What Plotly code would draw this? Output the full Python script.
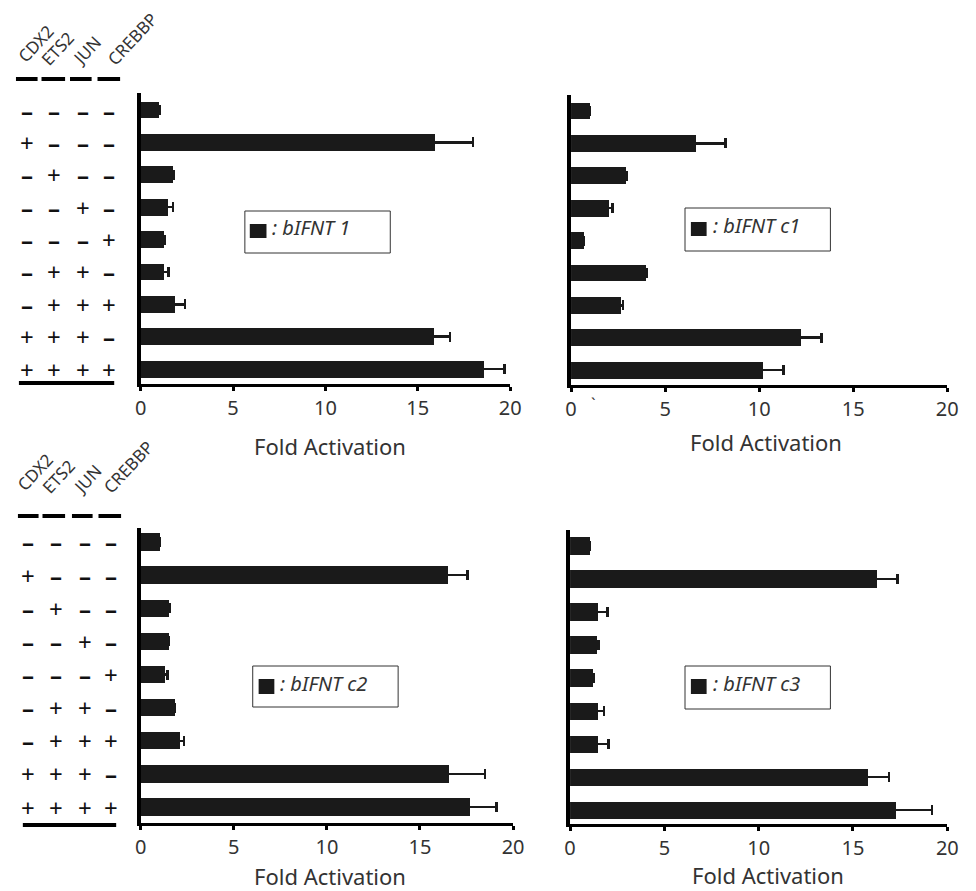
import plotly.graph_objects as go

# ---------------- data ----------------
rows = list(range(9))
factors = ["CDX2", "ETS2", "JUN", "CREBBP"]
cdx2 = ["–", "+", "–", "–", "–", "–", "–", "+", "+"]
ets2 = ["–", "–", "+", "–", "–", "+", "+", "+", "+"]
jun = ["–", "–", "–", "+", "–", "+", "+", "+", "+"]
crebbp = ["–", "–", "–", "–", "+", "–", "+", "–", "+"]

ifnt1 = [1.0, 15.9, 1.75, 1.45, 1.22, 1.22, 1.86, 15.85, 18.55]
ifnt1_err = [0.05, 2.1, 0.05, 0.3, 0.1, 0.28, 0.55, 0.9, 1.15]
c1 = [0.99, 6.63, 2.92, 2.04, 0.68, 3.97, 2.66, 12.2, 10.2]
c1_err = [0.02, 1.57, 0.03, 0.16, 0.02, 0.05, 0.11, 1.1, 1.1]
c2 = [1.0, 16.5, 1.53, 1.48, 1.27, 1.8, 2.1, 16.56, 17.67]
c2_err = [0.02, 1.06, 0.03, 0.03, 0.16, 0.03, 0.23, 1.94, 1.43]
c3 = [1.04, 16.3, 1.5, 1.45, 1.2, 1.5, 1.5, 15.8, 17.3]
c3_err = [0.02, 1.05, 0.48, 0.05, 0.03, 0.3, 0.53, 1.1, 1.9]

series_names = ["bIFNT 1", "bIFNT c1", "bIFNT c2", "bIFNT c3"]
x_ticks = [0, 5, 10, 15, 20]
x_title = "Fold Activation"

# page body has an 8px margin; design in window pixels and convert
OFF = 8
W, H = 976 - OFF, 891 - OFF
def X(px):
    return (px - OFF) / W
def Y(py):
    return 1 - (py - OFF) / H

FONT = "Noto Sans"
DARK = "#333333"
BAR = "#1a1a1a"

fig = go.Figure()

panels = [
    (ifnt1, ifnt1_err, (137, 513), (93, 384), [8.46, -0.525]),
    (c1, c1_err, (575, 958), (95, 385), [8.46, -0.494]),
    (c2, c2_err, (137, 516), (528, 823), [8.48, -0.42]),
    (c3, c3_err, (574, 958), (530, 824), [8.42, -0.485]),
]

for i, (vals, errs, xd, yd, yr) in enumerate(panels):
    n = "" if i == 0 else str(i + 1)
    fig.add_trace(go.Bar(
        x=vals, y=rows, orientation="h", width=0.52,
        marker=dict(color=BAR, line=dict(width=0)),
        error_x=dict(type="data", array=errs, symmetric=True,
                     color=BAR, thickness=2.5, width=5),
        xaxis="x" + n, yaxis="y" + n, showlegend=False,
        name=series_names[i],
    ))
    fig.layout["xaxis" + n] = dict(
        domain=[X(xd[0]), X(xd[1])], range=[0, 20], anchor="y" + n,
        tickvals=x_ticks, ticktext=[str(t) for t in x_ticks],
        ticks="outside", ticklen=4, tickwidth=3, tickcolor="black",
        showline=True, linewidth=3, linecolor="black",
        showgrid=False, zeroline=False,
        tickfont=dict(family=FONT, size=20, color=DARK),
    )
    fig.layout["yaxis" + n] = dict(
        domain=[Y(yd[1]), Y(yd[0])], range=yr, anchor="x" + n,
        showline=True, linewidth=4, linecolor="black",
        showticklabels=False, ticks="", showgrid=False, zeroline=False,
    )

annotations = []
shapes = []

# axis titles
for cx, cy in [(330, 446), (773, 442), (330, 876), (775, 875)]:
    annotations.append(dict(x=X(cx), y=Y(cy), xref="paper", yref="paper",
                            text=x_title, showarrow=False,
                            font=dict(family=FONT, size=22, color=DARK),
                            xanchor="center", yanchor="middle"))

# legend boxes
legend_boxes = [
    ((243, 211, 391, 253), (248, 224, 265, 238), (269, 227)),
    ((691, 208, 839, 251), (697, 222, 713, 236), (717, 225)),
    ((251, 666, 399, 707), (257, 679, 273, 694), (277, 683)),
    ((691, 666, 839, 709), (697, 679, 713, 694), (717, 683)),
]
for (box, sq, tp), name in zip(legend_boxes, series_names):
    shapes.append(dict(type="rect", xref="paper", yref="paper",
                       x0=X(box[0]), x1=X(box[2]), y0=Y(box[3]), y1=Y(box[1]),
                       line=dict(color=DARK, width=1), fillcolor="white", layer="above"))
    shapes.append(dict(type="rect", xref="paper", yref="paper",
                       x0=X(sq[0]), x1=X(sq[2]), y0=Y(sq[3]), y1=Y(sq[1]),
                       line=dict(width=0), fillcolor=BAR, layer="above"))
    annotations.append(dict(x=X(tp[0]), y=Y(tp[1]), xref="paper", yref="paper",
                            text="<i>: " + name + "</i>", showarrow=False,
                            font=dict(family=FONT, size=20, color=DARK),
                            xanchor="left", yanchor="middle"))

# stray mark near 0 on top-right axis
annotations.append(dict(x=X(598), y=Y(404), xref="paper", yref="paper",
                        text="`", showarrow=False,
                        font=dict(family=FONT, size=16, color=DARK)))

# sign tables
tables = [
    ("y", [21, 49, 78, 105],
     [(30, 43), (52, 48), (82, 51), (129, 39)], 79,
     [(10, 32), (36, 60), (65, 87), (93, 116)], 383, (13, 110)),
    ("y3", [22, 51, 80, 107],
     [(30, 472), (53, 476), (82, 479), (125, 467)], 516,
     [(12, 33), (37, 60), (67, 88), (94, 117)], 825, (17, 112)),
]
cols = [cdx2, ets2, jun, crebbp]
for yref, colx, hpos, dy, segs, by, bseg in tables:
    for name, (hx, hy) in zip(factors, hpos):
        annotations.append(dict(x=X(hx), y=Y(hy), xref="paper", yref="paper",
                                text=name, showarrow=False, textangle=-47,
                                font=dict(family=FONT, size=17, color=DARK),
                                xanchor="center", yanchor="middle"))
    for s0, s1 in segs:
        shapes.append(dict(type="line", xref="paper", yref="paper",
                           x0=X(s0), x1=X(s1), y0=Y(dy), y1=Y(dy),
                           line=dict(color="black", width=4)))
    shapes.append(dict(type="line", xref="paper", yref="paper",
                       x0=X(bseg[0]), x1=X(bseg[1]), y0=Y(by), y1=Y(by),
                       line=dict(color="black", width=4)))
    for col, cx in zip(cols, colx):
        for r, sgn in zip(rows, col):
            txt = "<b>–</b>" if sgn == "–" else "+"
            annotations.append(dict(x=X(cx), y=r, xref="paper", yref=yref,
                                    text=txt, showarrow=False,
                                    font=dict(family=FONT, size=24, color="#111111"),
                                    xanchor="center", yanchor="middle"))

fig.update_layout(
    width=W, height=H, margin=dict(l=0, r=0, t=0, b=0),
    paper_bgcolor="white", plot_bgcolor="white",
    annotations=annotations, shapes=shapes, showlegend=False,
    bargap=0,
)

fig.write_html("out.html")
